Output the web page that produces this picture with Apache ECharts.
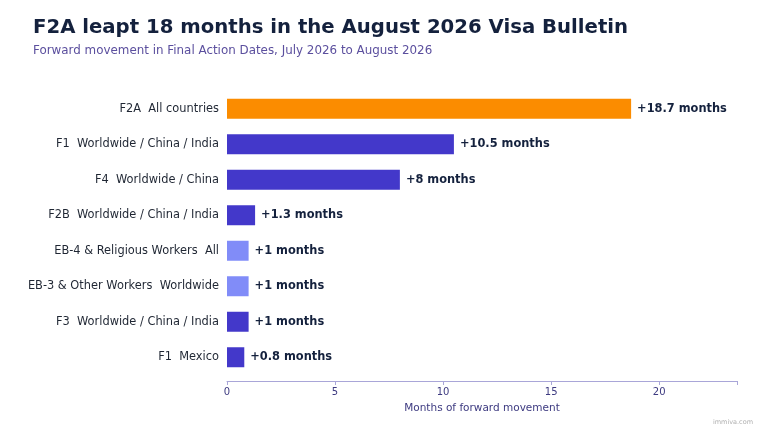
<!DOCTYPE html>
<html>
<head>
<meta charset="utf-8">
<script src="https://cdn.jsdelivr.net/npm/echarts@6/dist/echarts.min.js"></script>
<style>
  html, body { margin: 0; padding: 0; background: #fff; }
  #chart { width: 760px; height: 428px; }
</style>
</head>
<body>
<div id="chart"></div>
<script>
// categories top to bottom
var categories = [
  'F2A  All countries',
  'F1  Worldwide / China / India',
  'F4  Worldwide / China',
  'F2B  Worldwide / China / India',
  'EB-4 & Religious Workers  All',
  'EB-3 & Other Workers  Worldwide',
  'F3  Worldwide / China / India',
  'F1  Mexico'
];
var months = [18.7, 10.5, 8, 1.3, 1, 1, 1, 0.8];
var barKind = ['highlight', 'family', 'family', 'family', 'employment', 'employment', 'family', 'family'];
var xTicks = [0, 5, 10, 15, 20];

var colors = {
  highlight: '#FB8C00',
  family: '#4338CA',
  employment: '#818CF8'
};

var chart = echarts.init(document.getElementById('chart'));

var barData = [];
for (var i = categories.length - 1; i >= 0; i--) {
  barData.push({
    value: months[i],
    itemStyle: { color: colors[barKind[i]] }
  });
}

var option = {
  backgroundColor: '#fff',
  animation: false,
  textStyle: { fontFamily: 'DejaVu Sans' },
  title: [{
    text: 'F2A leapt 18 months in the August 2026 Visa Bulletin',
    left: 28, top: 13,
    textStyle: { fontSize: 19.7, fontWeight: 'bold', color: '#14213D', fontFamily: 'DejaVu Sans' }
  }, {
    text: 'Forward movement in Final Action Dates, July 2026 to August 2026',
    left: 28, top: 40,
    textStyle: { fontSize: 11.9, fontWeight: 'normal', color: '#5B4F9E', fontFamily: 'DejaVu Sans' }
  }, {
    text: 'immiva.com',
    right: 2, bottom: -3,
    textStyle: { fontSize: 6.5, fontWeight: 'normal', color: '#b0b0b0', fontFamily: 'DejaVu Sans' }
  }],
  grid: { left: 227, right: 23, top: 91, bottom: 53, containLabel: false },
  xAxis: {
    type: 'value',
    min: 0, max: 23.6, interval: 5,
    offset: 6,
    axisLine: { show: true, lineStyle: { color: '#A9A6D8', width: 1 } },
    axisTick: { show: true, length: 4, lineStyle: { color: '#A9A6D8' } },
    splitLine: { show: false },
    axisLabel: {
      fontSize: 10, color: '#3D3A80', margin: 6,
      formatter: function (v) { return xTicks.indexOf(v) >= 0 ? String(v) : ''; }
    },
    name: 'Months of forward movement',
    nameLocation: 'middle', nameGap: 22,
    nameTextStyle: { fontSize: 10.5, color: '#3D3A80' }
  },
  yAxis: {
    type: 'category',
    data: categories.slice().reverse(),
    axisLine: { show: false },
    axisTick: { show: false },
    axisLabel: { fontSize: 11.4, color: '#1F2633', margin: 8 }
  },
  series: [{
    type: 'bar',
    data: barData,
    barWidth: 20,
    label: {
      show: true,
      position: 'right',
      distance: 6,
      fontSize: 11.4,
      fontWeight: 'bold',
      color: '#14213D',
      formatter: function (p) { return '+' + p.value + ' months'; }
    }
  }]
};

chart.setOption(option);
</script>
</body>
</html>
